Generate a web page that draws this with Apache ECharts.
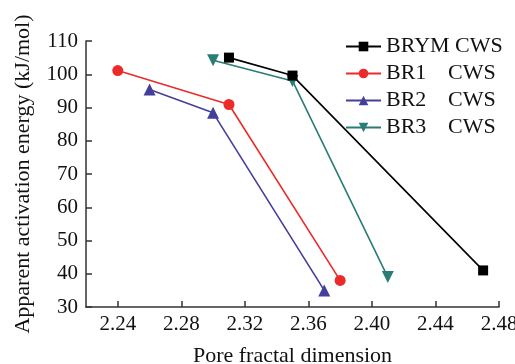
<!DOCTYPE html>
<html>
<head>
<meta charset="utf-8">
<script src="https://cdn.jsdelivr.net/npm/echarts@6/dist/echarts.min.js"></script>
<style>
  html, body { margin: 0; padding: 0; background: #fff; }
  #main { width: 515px; height: 364px; }
</style>
</head>
<body>
<div id="main"></div>
<script>
// series names and [x, y] points
var names = ['BRYM CWS', 'BR1 CWS', 'BR2 CWS', 'BR3 CWS'];
var brym = [[2.31, 105], [2.35, 99.6], [2.47, 41]];
var br1 = [[2.24, 101.1], [2.31, 90.9], [2.38, 38]];
var br2 = [[2.26, 95.4], [2.30, 88.4], [2.37, 35]];
var br3 = [[2.30, 104.2], [2.35, 98], [2.41, 39]];
var xTicks = [2.24, 2.28, 2.32, 2.36, 2.40, 2.44, 2.48];

var colors = ['#000000', '#ec2a2a', '#443f9c', '#2a7c77'];
var symbols = ['rect', 'circle', 'triangle', 'triangle'];
var sizes = [10, 11, 12, 12];
var rotates = [0, 0, 0, 180];
var datas = [brym, br1, br2, br3];

var font = '"Liberation Serif", "Times New Roman", serif';

var series = [];
for (var i = 0; i < names.length; i++) {
  series.push({
    name: names[i],
    type: 'line',
    data: datas[i],
    symbol: symbols[i],
    symbolSize: sizes[i],
    symbolRotate: rotates[i],
    lineStyle: { color: colors[i], width: 1.6 },
    itemStyle: { color: colors[i] },
    z: 10 - i
  });
}

var option = {
  animation: false,
  backgroundColor: '#fff',
  grid: { left: 86, right: 16, top: 41, bottom: 57, outerBoundsMode: 'none' },
  legend: {
    orient: 'vertical',
    left: 340,
    top: 30,
    itemWidth: 35,
    itemHeight: 12,
    itemGap: 4,
    data: names,
    formatter: function (name) {
      var p = name.split(' ');
      if (p[0] === 'BRYM') return '{n|BRYM }{c|CWS}';
      return '{m|' + p[0] + '}{c|CWS}';
    },
    textStyle: {
      fontFamily: font, fontSize: 22, color: '#111', lineHeight: 23,
      rich: {
        n: { fontFamily: font, fontSize: 22, color: '#111' },
        m: { fontFamily: font, fontSize: 22, color: '#111', width: 62 },
        c: { fontFamily: font, fontSize: 22, color: '#111' }
      }
    }
  },
  xAxis: {
    type: 'value',
    min: 2.22,
    max: 2.48,
    name: 'Pore fractal dimension',
    nameLocation: 'middle',
    nameGap: 38,
    nameTextStyle: { fontFamily: font, fontSize: 22, color: '#111' },
    axisLine: { lineStyle: { color: '#333', width: 1.5 } },
    axisTick: { inside: true, length: 6, customValues: xTicks, lineStyle: { color: '#333', width: 1.5 } },
    axisLabel: {
      customValues: xTicks, margin: 7,
      fontFamily: font, fontSize: 21, color: '#111',
      formatter: function (v) { return v.toFixed(2); }
    },
    splitLine: { show: false }
  },
  yAxis: {
    type: 'value',
    min: 30,
    max: 110,
    interval: 10,
    name: 'Apparent activation energy (kJ/mol)',
    nameLocation: 'middle',
    nameGap: 52,
    nameTextStyle: { fontFamily: font, fontSize: 22, color: '#111' },
    axisLine: { show: true, lineStyle: { color: '#333', width: 1.5 } },
    axisTick: { show: true, inside: true, length: 6, lineStyle: { color: '#333', width: 1.5 } },
    axisLabel: { margin: 8, fontFamily: font, fontSize: 21, color: '#111' },
    splitLine: { show: false }
  },
  series: series
};

echarts.init(document.getElementById('main')).setOption(option);
</script>
</body>
</html>
